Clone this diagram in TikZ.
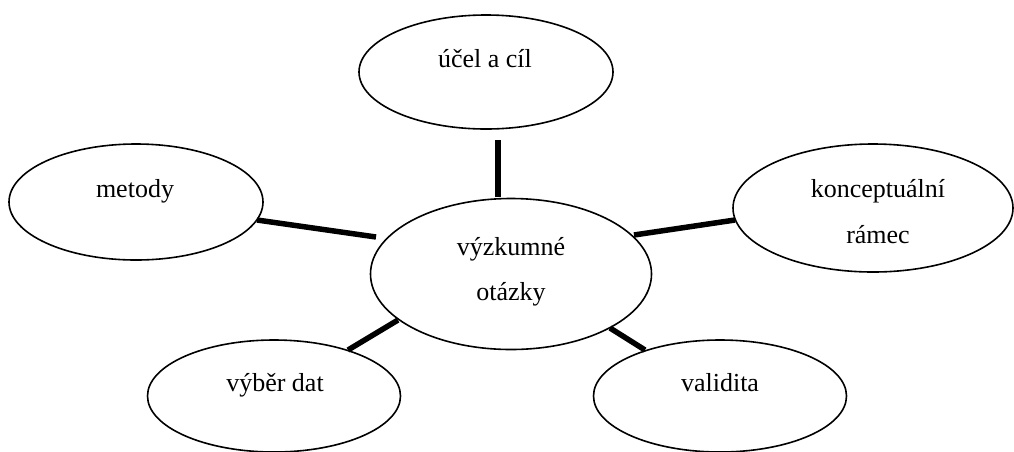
\documentclass[tikz,border=0pt]{standalone}
\usepackage{fontspec}
\setmainfont{Liberation Serif}
\usetikzlibrary{shapes.geometric}
\begin{document}
\begin{tikzpicture}[x=1pt,y=-1pt,
  bubble/.style={draw, ellipse, line width=1.6pt, inner sep=0pt},
  lbl/.style={anchor=base, font=\fontsize{26}{30}\selectfont, inner sep=0pt},
  conn/.style={line width=5.5pt}]
\useasboundingbox (0,0) rectangle (1014,451);
% ellipses
\node[bubble, minimum width=254pt, minimum height=114pt] (ucel) at (486,72) {};
\node[bubble, minimum width=254pt, minimum height=116pt] (metody) at (136,202) {};
\node[bubble, minimum width=281pt, minimum height=151pt] (vyzk) at (511,274) {};
\node[bubble, minimum width=280pt, minimum height=128pt] (konc) at (873,208) {};
\node[bubble, minimum width=253pt, minimum height=112pt] (vyber) at (274,396) {};
\node[bubble, minimum width=253pt, minimum height=112pt] (valid) at (720,396) {};
% labels
\node[lbl] (tucel) at (485,67) {účel a cíl};
\node[lbl] (tmetody) at (135,197) {metody};
\node[lbl] (tvyzk1) at (511,255) {výzkumné};
\node[lbl] (tvyzk2) at (511,300) {otázky};
\node[lbl] (tkonc1) at (878,197) {konceptuální};
\node[lbl] (tkonc2) at (878,243) {rámec};
\node[lbl] (tvyber) at (275,391) {výběr dat};
\node[lbl] (tvalid) at (720,391) {validita};
% connector ends
\coordinate (a1) at (498,140);
\coordinate (a2) at (498,197);
\coordinate (b1) at (257,220);
\coordinate (b2) at (376,237);
\coordinate (c1) at (634,235);
\coordinate (c2) at (735,220);
\coordinate (d1) at (348,350);
\coordinate (d2) at (398,320);
\coordinate (e1) at (610,328);
\coordinate (e2) at (645,350);
\draw[conn] (a1) -- (a2);
\draw[conn] (b1) -- (b2);
\draw[conn] (c1) -- (c2);
\draw[conn] (d1) -- (d2);
\draw[conn] (e1) -- (e2);
\end{tikzpicture}
\end{document}
